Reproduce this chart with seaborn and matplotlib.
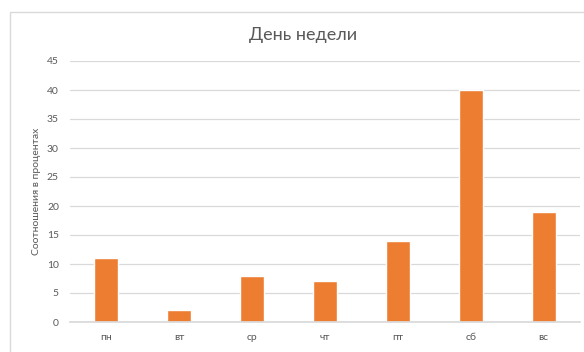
import matplotlib
matplotlib.use("Agg")
import matplotlib.pyplot as plt
import seaborn as sns
import pandas as pd
from matplotlib.patches import Rectangle

days = ["пн", "вт", "ср", "чт", "пт", "сб", "вс"]
values = [11, 2, 8, 7, 14, 40, 19]
yticks = [0, 5, 10, 15, 20, 25, 30, 35, 40, 45]

sns.set_theme(style="white")
plt.rcParams['font.family'] = ['Lato', 'DejaVu Sans']

fig = plt.figure(figsize=(5.84, 3.52), dpi=100)
fig.patches.append(Rectangle((10/584, -0.05), 1.0, 1 - 12/352 + 0.05, transform=fig.transFigure,
                             fill=False, edgecolor="#d9d9d9", linewidth=1.0))
ax = fig.add_axes([70/584, 1 - 322/352, 510/584, (322 - 61)/352])

df = pd.DataFrame({"day": days, "value": values})
sns.barplot(data=df, x="day", y="value", color="#ED7D31", width=0.33, ax=ax, saturation=1)

ax.set_ylim(0, 45)
ax.set_yticks(yticks)
ax.yaxis.grid(True, color="#d9d9d9", linewidth=0.9)
ax.set_axisbelow(True)
for s in ["left", "top", "right"]:
    ax.spines[s].set_visible(False)
ax.spines["bottom"].set_color("#d9d9d9")
ax.tick_params(axis="both", length=0, labelsize=7.5, colors="#595959")
ax.tick_params(axis="x", pad=8)
ax.tick_params(axis="y", pad=8)
ax.set_xlabel("")
ax.set_ylabel("Соотношения в процентах", fontsize=7.5, color="#595959", labelpad=4)
fig.text(303/584, 1 - 35/352, "День недели", ha="center", va="center", fontsize=13, color="#595959")

fig.savefig("out.png", dpi=100)
